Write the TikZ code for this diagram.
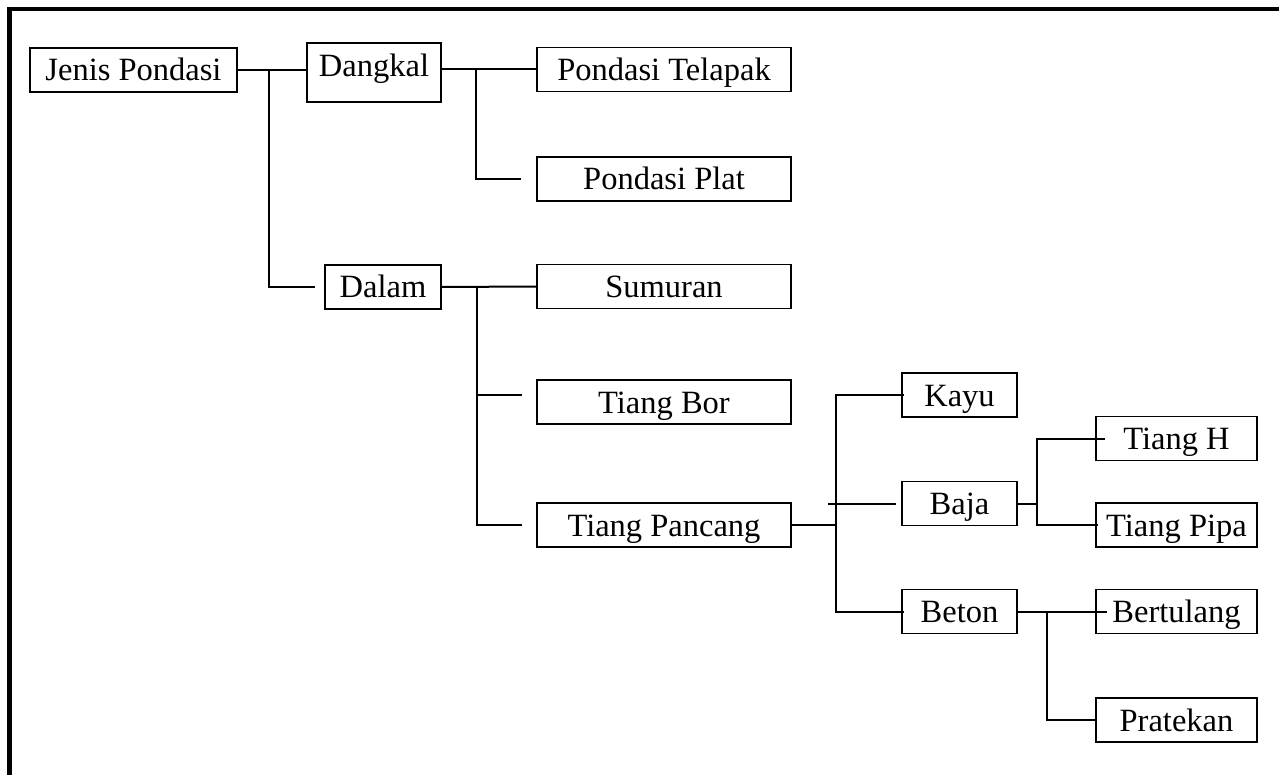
\documentclass[tikz,border=0pt]{standalone}
\usepackage{fontspec}
\setmainfont{Liberation Serif}

\tikzstyle{block} = [rectangle, draw, line width=1.8pt, inner sep=0pt, text height=33pt, text depth=11pt, font=\fontsize{32.5}{37}\selectfont]
\tikzstyle{link} = [line width=2pt]

\begin{document}
\begin{tikzpicture}[x=1pt, y=-1pt]
  \useasboundingbox (0,0) rectangle (1279,775);
  % frame
  \draw[line width=4.5pt] (9.5,775) -- (9.5,9) -- (1279,9);

  \node[block, minimum width=207pt] (jenis) at (133.5,70) {Jenis Pondasi};
  \node[block, minimum width=134pt, text height=34pt, text depth=25pt] (dangkal) at (374,72.5) {Dangkal};
  \node[block, minimum width=116pt] (dalam) at (383,287) {Dalam};
  \node[block, minimum width=254pt] (telapak) at (664,69.5) {Pondasi Telapak};
  \node[block, minimum width=254pt] (plat) at (664,179) {Pondasi Plat};
  \node[block, minimum width=254pt] (sumuran) at (664,286.5) {Sumuran};
  \node[block, minimum width=254pt] (bor) at (664,402) {Tiang Bor};
  \node[block, minimum width=254pt] (pancang) at (664,525) {Tiang Pancang};
  \node[block, minimum width=115pt] (kayu) at (959.5,395) {Kayu};
  \node[block, minimum width=115pt] (baja) at (959.5,503.5) {Baja};
  \node[block, minimum width=115pt] (beton) at (959.5,611.5) {Beton};
  \node[block, minimum width=161pt] (tiangh) at (1176.5,438.5) {Tiang H};
  \node[block, minimum width=161pt] (pipa) at (1176.5,525) {Tiang Pipa};
  \node[block, minimum width=161pt] (bertulang) at (1176.5,611.5) {Bertulang};
  \node[block, minimum width=161pt] (pratekan) at (1176.5,720) {Pratekan};

  % junctions and loose ends
  \coordinate (jA) at (269,70);
  \coordinate (jB) at (476,69.5);
  \coordinate (jC) at (477,287);
  \coordinate (jD) at (836,525);
  \coordinate (jE) at (1037,503.5);
  \coordinate (jF) at (1047,611.5);
  \coordinate (dalamIn) at ([xshift=-9pt]dalam.west);
  \coordinate (platIn) at ([xshift=-15pt]plat.west);
  \coordinate (borIn) at ([xshift=-14pt,yshift=7pt]bor.west);
  \coordinate (pancangIn) at ([xshift=-14pt]pancang.west);
  \coordinate (bajaIn) at ([xshift=-5pt]baja.west);
  \coordinate (bajaOut) at (828,503.5);

  \draw[link] (jenis.east) -- (jenis.east -| dangkal.west);
  \draw[link] (jA) |- (dalamIn);
  \draw[link] (dangkal.east |- telapak.west) -- (telapak.west);
  \draw[link] (jB) |- (platIn);
  \draw[link] (dalam.east) -- (sumuran.west);
  \draw[link] (jC) |- (pancangIn);
  \draw[link] (jC |- borIn) -- (borIn);
  \draw[link] (pancang.east) -- (jD);
  \draw[link] ([xshift=3pt]kayu.west) -| (jD) |- ([xshift=3pt]beton.west);
  \draw[link] (bajaOut) -- (bajaIn);
  \draw[link] (baja.east) -- (jE);
  \draw[link] ([xshift=10pt]tiangh.west) -| (jE) |- ([xshift=3pt]pipa.west);
  \draw[link] (beton.east) -- ([xshift=12pt]bertulang.west);
  \draw[link] (jF) |- (pratekan.west);
\end{tikzpicture}
\end{document}
